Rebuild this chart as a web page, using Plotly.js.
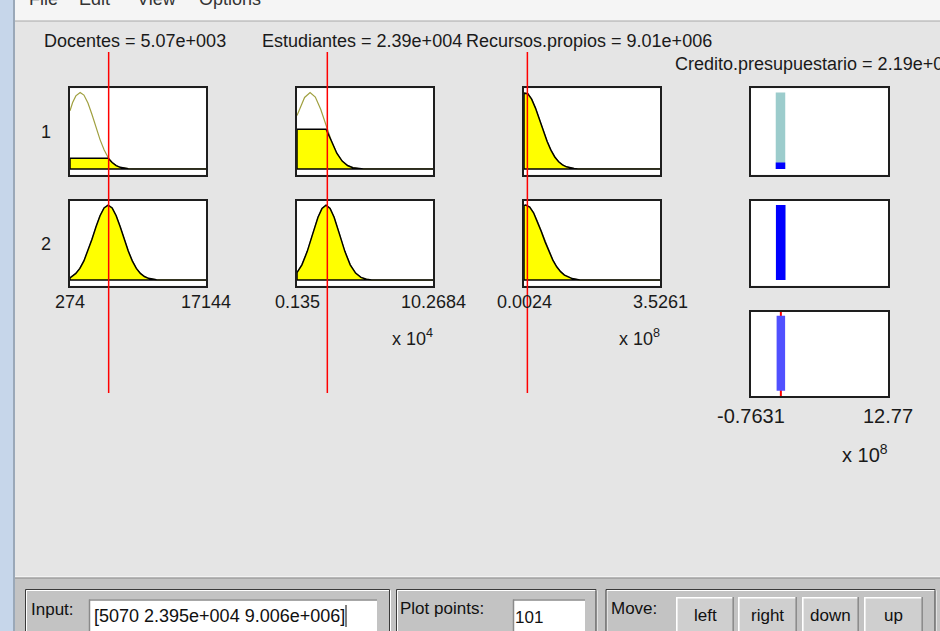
<!DOCTYPE html>
<html><head><meta charset="utf-8">
<script src="https://cdn.plot.ly/plotly-3.0.1.min.js"></script>
<style>html,body{margin:0;padding:0;background:#e5e5e5;overflow:hidden}#chart{width:940px;height:631px}</style>
</head><body><div id="chart"></div>
<script>
// ---------------- data ----------------
const inputNames = ['Docentes', 'Estudiantes', 'Recursos.propios'];
const inputValues = [5070, 23948.6, 9005870];
const inputScaleExp = [0, 4, 8];
const inputRanges = [[274, 17144], [0.135, 10.2684], [0.0024, 3.5261]];
const outputName = 'Credito.presupuestario';
const outputValue = 2.187e8;
const outputScaleExp = 8;
const outputRange = [-0.7631, 12.77];
const ruleLabels = ['1', '2'];

// membership functions (x in axis units, degree)
const docMf1X = [274, 600, 1000, 1533, 2000, 2500, 3000, 3500, 4000, 4500, 5000, 5500, 6000, 6500, 7000, 7500, 8000, 17144];
const docMf1Y = [0.76, 0.87, 0.956, 1.0, 0.966, 0.863, 0.713, 0.544, 0.384, 0.251, 0.151, 0.084, 0.044, 0.021, 0.009, 0.004, 0, 0];
const docMf2X = [274, 1000, 1500, 2000, 2500, 3000, 3500, 4000, 4500, 5000, 5500, 6000, 6500, 7000, 7500, 8000, 8500, 9000, 9500, 10000, 10500, 11000, 17144];
const docMf2Y = [0.03, 0.089, 0.156, 0.256, 0.388, 0.545, 0.711, 0.859, 0.963, 1.0, 0.963, 0.859, 0.711, 0.545, 0.388, 0.256, 0.156, 0.089, 0.047, 0.023, 0.010, 0.004, 0];
const estMf1X = [0.135, 0.4, 0.7, 1.11, 1.5, 1.9, 2.3, 2.7, 3.1, 3.5, 3.9, 4.3, 4.7, 5.1, 10.2684];
const estMf1Y = [0.70, 0.818, 0.935, 1.0, 0.941, 0.780, 0.569, 0.365, 0.206, 0.103, 0.045, 0.017, 0.006, 0, 0];
const estMf2X = [0.135, 0.5, 0.9, 1.3, 1.7, 2.0, 2.3, 2.6, 2.9, 3.3, 3.7, 4.1, 4.5, 4.9, 5.3, 5.7, 10.2684];
const estMf2Y = [0.10, 0.204, 0.383, 0.613, 0.838, 0.957, 1.0, 0.957, 0.838, 0.613, 0.383, 0.204, 0.093, 0.036, 0.012, 0, 0];
const recMf1X = [0.0024, 0.1, 0.2, 0.3, 0.4, 0.5, 0.6, 0.7, 0.8, 0.9, 1.0, 1.1, 1.2, 1.3, 1.4, 3.5261];
const recMf1Y = [0.998, 0.985, 0.914, 0.796, 0.652, 0.501, 0.362, 0.246, 0.157, 0.094, 0.053, 0.028, 0.014, 0.006, 0, 0];
const recMf2X = [0.0024, 0.05, 0.15, 0.25, 0.35, 0.45, 0.55, 0.65, 0.75, 0.85, 0.95, 1.05, 1.15, 1.25, 1.35, 1.45, 3.5261];
const recMf2Y = [0.994, 1.0, 0.973, 0.898, 0.784, 0.649, 0.509, 0.378, 0.266, 0.177, 0.112, 0.067, 0.038, 0.020, 0.010, 0, 0];

// firing level of each antecedent (row = rule, col = input)
const ruleLevels = [[0.14, 0.52, 0.99], [1.0, 1.0, 1.0]];
// consequents (x 1e8) and rule strengths
const ruleOutputs = [2.15, 2.17];
const ruleStrengths = [0.085, 1.0];
const aggregateHeight = 1.0;

const menuItems = ['File', 'Edit', 'View', 'Options'];
const plotPoints = 101;
const moveButtons = ['left', 'right', 'down', 'up'];

// ---------------- helpers ----------------
const FONT = 'Liberation Sans, Arial, sans-serif';
const W = 940, H = 631;
const px = v => v / W, py = v => 1 - v / H;
const colPx = [[69, 207], [296, 434], [523, 661], [750, 889]];
const rowPx = [[87.3, 175.7], [200, 286.7], [310.7, 397.3]];
const yRange = [-0.075, 1.055];

const mfX = [[docMf1X, docMf2X], [estMf1X, estMf2X], [recMf1X, recMf2X]];
const mfY = [[docMf1Y, docMf2Y], [estMf1Y, estMf2Y], [recMf1Y, recMf2Y]];

function padExp(s) {
  if (s.indexOf('e') < 0) return s;
  const p = s.split('e');
  const sign = p[1][0] === '-' ? '-' : '+';
  return p[0] + 'e' + sign + p[1].replace(/[+-]/, '').padStart(3, '0');
}
function fmtE(v, d) { return padExp(v.toExponential(d)); }
function fmtField(v) { return padExp(v.toPrecision(4)); }
const axn = k => (k === 1 ? '' : String(k));

const layout = {
  width: W, height: H, margin: {l: 0, r: 0, t: 0, b: 0},
  paper_bgcolor: '#e5e5e5', plot_bgcolor: '#ffffff',
  showlegend: false, hovermode: false, shapes: [], annotations: []
};
const traces = [];

function addAxes(k, cx, ry, xr) {
  const n = axn(k);
  const common = {showline: true, mirror: true, linewidth: 2, linecolor: '#1e1e1e', showgrid: false,
    zeroline: false, showticklabels: false, ticks: '', fixedrange: true};
  layout['xaxis' + n] = Object.assign({domain: [px(cx[0] + 1), px(cx[1] - 1)], range: xr, anchor: 'y' + n}, common);
  layout['yaxis' + n] = Object.assign({domain: [py(ry[1] - 1), py(ry[0] + 1)], range: yRange, anchor: 'x' + n}, common);
}
function ann(text, x, y, o) {
  return Object.assign({text: text, x: px(x), y: py(y), xref: 'paper', yref: 'paper', showarrow: false,
    xanchor: 'center', yanchor: 'middle', font: {family: FONT, size: 18, color: '#1a1a1a'}}, o || {});
}
function rect(x0, y0, x1, y1, fill, lc, lw) {
  layout.shapes.push({type: 'rect', xref: 'paper', yref: 'paper', x0: px(x0), x1: px(x1), y0: py(y1), y1: py(y0),
    fillcolor: fill || 'rgba(0,0,0,0)', line: {color: lc || 'rgba(0,0,0,0)', width: lw || 0}, layer: 'below'});
}
function hline(x0, x1, y, c, w) {
  layout.shapes.push({type: 'line', xref: 'paper', yref: 'paper', x0: px(x0), x1: px(x1), y0: py(y), y1: py(y), line: {color: c, width: w}, layer: 'below'});
}
function vline(x, y0, y1, c, w, layer) {
  layout.shapes.push({type: 'line', xref: 'paper', yref: 'paper', x0: px(x), x1: px(x), y0: py(y0), y1: py(y1), line: {color: c, width: w}, layer: layer || 'below'});
}

// ---------------- inputs ----------------
for (let c = 0; c < 3; c++) {
  const scale = Math.pow(10, inputScaleExp[c]);
  const xv = inputValues[c] / scale;
  const xr = inputRanges[c];
  for (let r = 0; r < 2; r++) {
    const k = c * 2 + r + 1, n = axn(k);
    addAxes(k, colPx[c], rowPx[r], xr);
    const xs = mfX[c][r], ys = mfY[c][r];
    traces.push({type: 'scatter', mode: 'lines', x: xs, y: ys, xaxis: 'x' + n, yaxis: 'y' + n,
      line: {color: '#a0a040', width: 1.2}});
    const lvl = ruleLevels[r][c];
    const fx = [xr[0]], fy = [0];
    xs.forEach((x, i) => { fx.push(x); fy.push(Math.min(ys[i], lvl)); });
    fx.push(xr[1], xr[0]); fy.push(0, 0);
    traces.push({type: 'scatter', mode: 'lines', x: fx, y: fy, fill: 'toself', fillcolor: '#ffff00',
      xaxis: 'x' + n, yaxis: 'y' + n, line: {color: '#000000', width: 1.5}});
  }
  const cx = (colPx[c][0] + colPx[c][1]) / 2;
  layout.annotations.push(ann(inputNames[c] + ' = ' + fmtE(inputValues[c], 2), cx - 3, 41));
  // red input line
  layout.shapes.push({type: 'line', xref: 'x' + axn(c * 2 + 1), yref: 'paper', x0: xv, x1: xv,
    y0: py(393), y1: py(52), line: {color: '#ff0000', width: 1.5}, layer: 'above'});
  // range labels
  const k2 = 'x' + axn(c * 2 + 2);
  layout.annotations.push(Object.assign(ann(String(xr[0]), 0, 302.5), {x: xr[0], xref: k2}));
  layout.annotations.push(Object.assign(ann(String(xr[1]), 0, 302.5), {x: xr[1], xref: k2}));
  if (inputScaleExp[c] > 0) {
    layout.annotations.push(ann('x 10<sup>' + inputScaleExp[c] + '</sup>', colPx[c][1] + 1, 337, {xanchor: 'right'}));
  }
}
ruleLabels.forEach((lab, r) => {
  layout.annotations.push(ann(lab, 46, (rowPx[r][0] + rowPx[r][1]) / 2 + 0.5));
});

// ---------------- output ----------------
for (let r = 0; r < 3; r++) addAxes(7 + r, colPx[3], rowPx[r], outputRange);
const outX = outputValue / Math.pow(10, outputScaleExp);
for (let r = 0; r < 2; r++) {
  const n = axn(7 + r);
  traces.push({type: 'scatter', mode: 'lines', x: [ruleOutputs[r], ruleOutputs[r]], y: [0, 1],
    xaxis: 'x' + n, yaxis: 'y' + n, line: {color: '#9ccccc', width: 9.5}});
  traces.push({type: 'scatter', mode: 'lines', x: [ruleOutputs[r], ruleOutputs[r]], y: [0, ruleStrengths[r]],
    xaxis: 'x' + n, yaxis: 'y' + n, line: {color: '#0000ff', width: 9.5}});
}
traces.push({type: 'scatter', mode: 'lines', x: [outX, outX], y: yRange, xaxis: 'x9', yaxis: 'y9',
  line: {color: '#ff0000', width: 2}});
traces.push({type: 'scatter', mode: 'lines', x: [outX, outX], y: [0, aggregateHeight], xaxis: 'x9', yaxis: 'y9',
  line: {color: '#5050ff', width: 8.5}});
layout.annotations.push(ann(outputName + ' = ' + fmtE(outputValue, 2), 673, 64.5, {xanchor: 'left'}));
const outFont = {family: FONT, size: 20, color: '#1a1a1a'};
layout.annotations.push(Object.assign(ann(String(outputRange[0]), 0, 415.5, {font: outFont}), {x: outputRange[0], xref: 'x9'}));
layout.annotations.push(Object.assign(ann(String(outputRange[1]), 0, 415.5, {font: outFont}), {x: outputRange[1], xref: 'x9'}));
layout.annotations.push(ann('x 10<sup>' + outputScaleExp + '</sup>', colPx[3][1] + 1, 453, {xanchor: 'right', font: outFont}));

// ---------------- window chrome ----------------
rect(0, 0, 13, 640, '#c6d6ea');
vline(14, 0, 640, '#9aa8b8', 2);
rect(15, 0, 945, 21, '#f5f5f5');
hline(15, 945, 21, '#a8a8a8', 1);
const menuX = [27, 77, 135, 197];
menuItems.forEach((m, i) => layout.annotations.push(ann(m, menuX[i], 11, {xanchor: 'left', yanchor: 'bottom', font: {family: FONT, size: 18, color: '#333'}})));

// bottom control panel
rect(15, 578, 945, 640, '#c3c3c3');
hline(15, 945, 576.5, '#f2f2f2', 1);
hline(15, 945, 578, '#8a8a8a', 1.2);
function frame(x0, y0, x1, y1) {
  rect(x0 + 1, y0 + 1, x1 + 1, y1, null, '#ffffff', 1);
  rect(x0, y0, x1, y1, null, '#3a3a3a', 1);
}
frame(25.5, 589.5, 389.5, 650);
frame(396.5, 589.5, 596, 650);
frame(606, 589.5, 935, 650);
function field(x0, y0, x1, y1) {
  rect(x0, y0, x1, y1, '#ffffff');
  hline(x0, x1, y0 + 0.5, '#8a8a8a', 1.5);
  vline(x0 + 0.5, y0, y1, '#8a8a8a', 1.5);
}
field(89, 599.5, 377, 650);
field(513, 599.5, 585, 650);
const btnX = [[676, 734], [738, 797], [802, 859], [864, 923]];
btnX.forEach((b, i) => {
  rect(b[0], 597, b[1], 650, '#cfcfcf');
  hline(b[0], b[1], 597.8, '#ffffff', 1.6);
  vline(b[0] + 0.8, 597, 650, '#ffffff', 1.6);
  vline(b[1] - 0.8, 597, 650, '#8c8c8c', 1.6);
  layout.annotations.push(ann(moveButtons[i], (b[0] + b[1]) / 2, 615, {font: {family: FONT, size: 17, color: '#111'}}));
});
const labelFont = {family: FONT, size: 17, color: '#111'};
layout.annotations.push(ann('Input:', 29, 609, {xanchor: 'left', font: labelFont}));
const fieldText = '[' + inputValues.map(fmtField).join(' ') + ']';
layout.annotations.push(ann(fieldText, 92, 616, {xanchor: 'left', font: {family: FONT, size: 18, color: '#111'}}));
vline(346, 605, 627, '#000000', 1, 'above');
layout.annotations.push(ann('Plot points:', 398, 608, {xanchor: 'left', font: labelFont}));
layout.annotations.push(ann(String(plotPoints), 513, 617, {xanchor: 'left', font: labelFont}));
layout.annotations.push(ann('Move:', 609, 608, {xanchor: 'left', font: labelFont}));

Plotly.newPlot('chart', traces, layout, {staticPlot: true, displayModeBar: false});
</script>
</body></html>
